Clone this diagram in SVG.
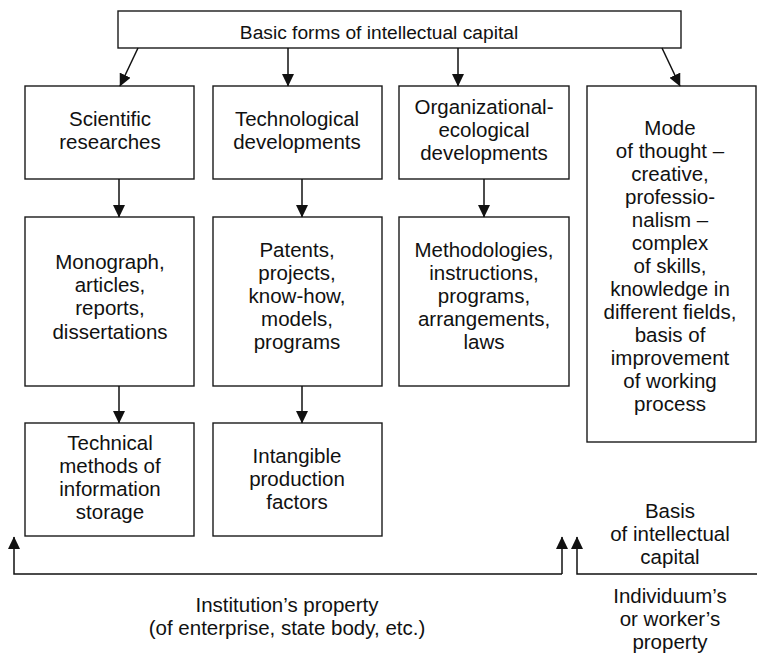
<svg xmlns="http://www.w3.org/2000/svg" width="757" height="655" viewBox="0 0 757 655">
<style>
.box{fill:#fff;stroke:#1a1a1a;stroke-width:1.4}
.t{font-family:"Liberation Sans",Arial,sans-serif;font-size:20.5px;fill:#111;text-anchor:middle}
.ttl{font-size:19.2px}
.c{fill:none;stroke:#111;stroke-width:1.5}
</style>
<defs>
<marker id="ah" markerUnits="userSpaceOnUse" markerWidth="13" markerHeight="12" refX="12" refY="6" orient="auto" viewBox="0 0 13 12">
<path d="M0,0 L12.5,6 L0,12 z" fill="#111"/>
</marker>
</defs>
<rect width="757" height="655" fill="#fff"/>
<g id="top"><rect class="box" x="118" y="11" width="563" height="37"/><text class="t ttl" x="379" y="39">Basic forms of intellectual capital</text></g>
<g id="scientific"><rect class="box" x="25" y="86" width="169" height="93"/><text class="t" x="110" y="126">Scientific</text><text class="t" x="110" y="149">researches</text></g>
<g id="technological"><rect class="box" x="213" y="86" width="169" height="93"/><text class="t" x="297" y="126">Technological</text><text class="t" x="297" y="149">developments</text></g>
<g id="organizational"><rect class="box" x="399" y="86" width="170" height="93"/><text class="t" x="484" y="114">Organizational-</text><text class="t" x="484" y="137">ecological</text><text class="t" x="484" y="160">developments</text></g>
<g id="mode"><rect class="box" x="587" y="86" width="169" height="356"/>
<text class="t" x="670" y="135">Mode</text>
<text class="t" x="670" y="158">of thought –</text>
<text class="t" x="670" y="181">creative,</text>
<text class="t" x="670" y="204">professio-</text>
<text class="t" x="670" y="227">nalism –</text>
<text class="t" x="670" y="250">complex</text>
<text class="t" x="670" y="273">of skills,</text>
<text class="t" x="670" y="296">knowledge in</text>
<text class="t" x="670" y="319">different fields,</text>
<text class="t" x="670" y="342">basis of</text>
<text class="t" x="670" y="365">improvement</text>
<text class="t" x="670" y="388">of working</text>
<text class="t" x="670" y="411">process</text>
</g>
<g id="monograph"><rect class="box" x="25" y="217" width="169" height="169"/>
<text class="t" x="110" y="269">Monograph,</text>
<text class="t" x="110" y="292">articles,</text>
<text class="t" x="110" y="315">reports,</text>
<text class="t" x="110" y="339">dissertations</text>
</g>
<g id="patents"><rect class="box" x="213" y="217" width="169" height="169"/>
<text class="t" x="297" y="257">Patents,</text>
<text class="t" x="297" y="280">projects,</text>
<text class="t" x="297" y="303">know-how,</text>
<text class="t" x="297" y="326">models,</text>
<text class="t" x="297" y="349">programs</text>
</g>
<g id="methodologies"><rect class="box" x="399" y="217" width="170" height="169"/>
<text class="t" x="484" y="257">Methodologies,</text>
<text class="t" x="484" y="280">instructions,</text>
<text class="t" x="484" y="303">programs,</text>
<text class="t" x="484" y="326">arrangements,</text>
<text class="t" x="484" y="349">laws</text>
</g>
<g id="technical"><rect class="box" x="25" y="423" width="169" height="113"/>
<text class="t" x="110" y="450">Technical</text>
<text class="t" x="110" y="473">methods of</text>
<text class="t" x="110" y="496">information</text>
<text class="t" x="110" y="519">storage</text>
</g>
<g id="intangible"><rect class="box" x="213" y="423" width="169" height="113"/>
<text class="t" x="297" y="463">Intangible</text>
<text class="t" x="297" y="486">production</text>
<text class="t" x="297" y="509">factors</text>
</g>
<g id="institution-label"><text class="t" x="287" y="612">Institution’s property</text><text class="t" x="287" y="635">(of enterprise, state body, etc.)</text></g>
<g id="basis-label"><text class="t" x="670" y="518">Basis</text><text class="t" x="670" y="541">of intellectual</text><text class="t" x="670" y="564">capital</text></g>
<g id="individuum-label"><text class="t" x="670" y="603">Individuum’s</text><text class="t" x="670" y="626">or worker’s</text><text class="t" x="670" y="649">property</text></g>
<g id="connectors">
<path class="c" d="M138,48 L120,86" marker-end="url(#ah)"/>
<path class="c" d="M288,48 V86" marker-end="url(#ah)"/>
<path class="c" d="M458,48 V86" marker-end="url(#ah)"/>
<path class="c" d="M662,48 L680,86" marker-end="url(#ah)"/>
<path class="c" d="M119,179 V217" marker-end="url(#ah)"/>
<path class="c" d="M302,179 V217" marker-end="url(#ah)"/>
<path class="c" d="M484,179 V217" marker-end="url(#ah)"/>
<path class="c" d="M119,386 V423" marker-end="url(#ah)"/>
<path class="c" d="M302,386 V423" marker-end="url(#ah)"/>
<path class="c" d="M562,574 H14 V537" marker-end="url(#ah)"/>
<path class="c" d="M562,574 V537" marker-end="url(#ah)"/>
<path class="c" d="M757,574 H577 V537" marker-end="url(#ah)"/>
</g>
</svg>
